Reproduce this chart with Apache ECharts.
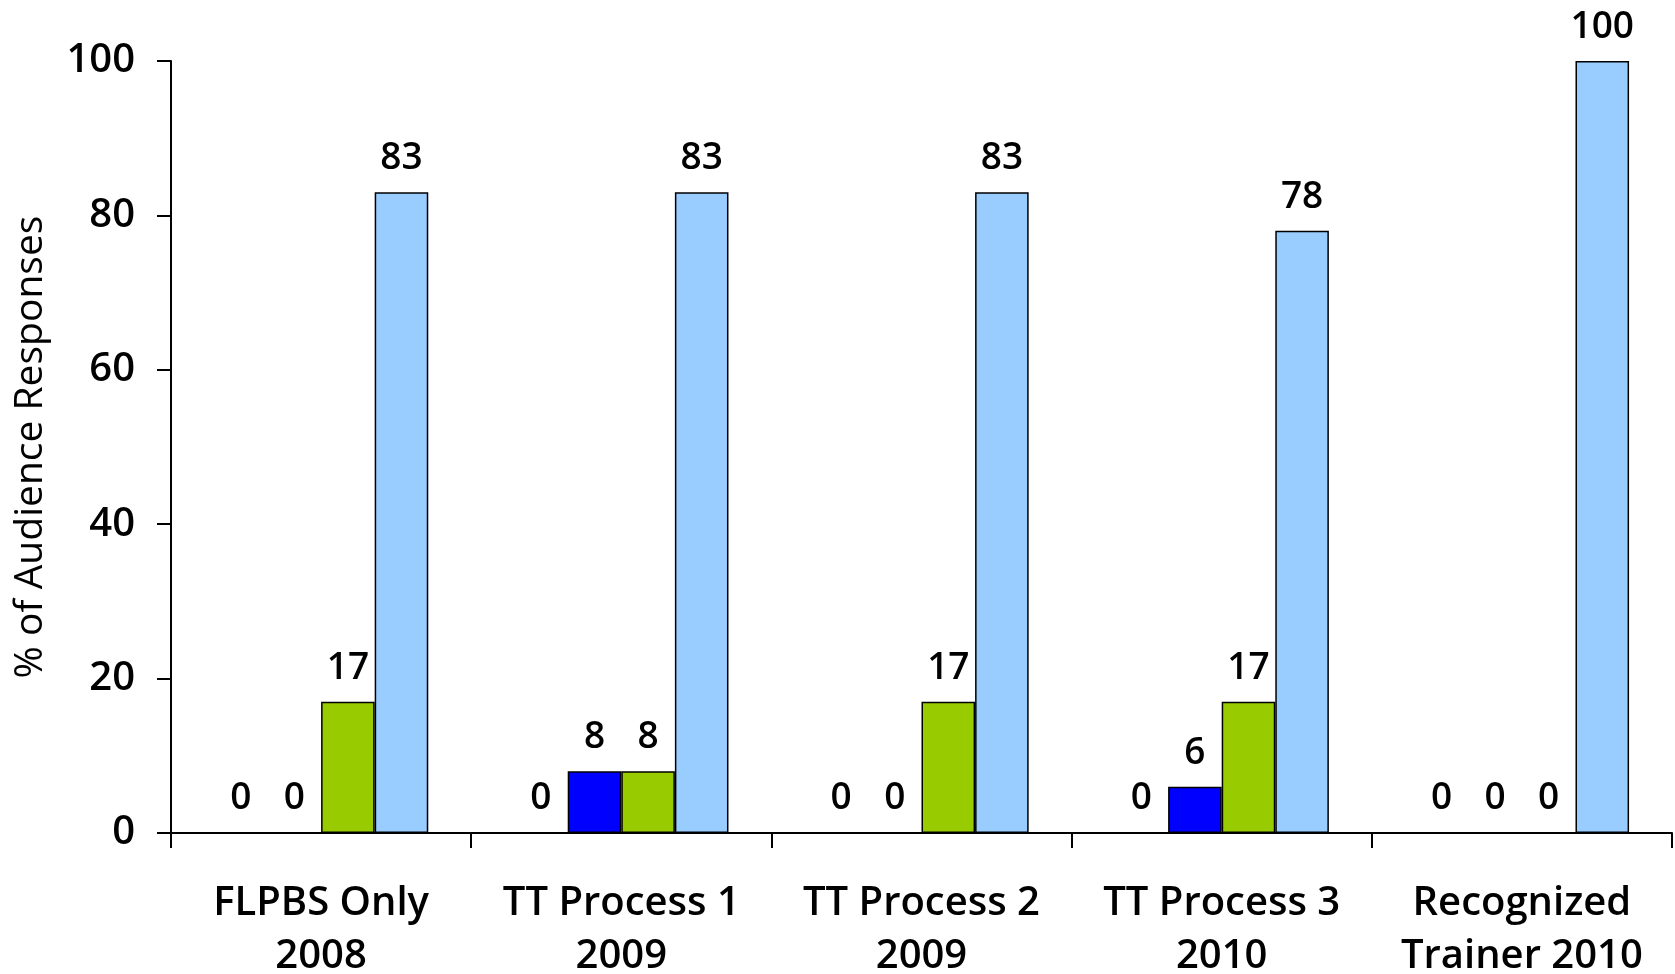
<!DOCTYPE html>
<html>
<head>
<meta charset="utf-8">
<script src="https://cdn.jsdelivr.net/npm/echarts@6/dist/echarts.min.js"></script>
<style>
  html, body { margin: 0; padding: 0; background: #ffffff; }
  #chart { width: 1675px; height: 974px; }
</style>
</head>
<body>
<div id="chart"></div>
<script>
// Survey groups along the x axis
const categories = [
  'FLPBS Only\n2008',
  'TT Process 1\n2009',
  'TT Process 2\n2009',
  'TT Process 3\n2010',
  'Recognized\nTrainer 2010'
];

// Percent of audience responses per answer, one array per answer
const answer1 = [0, 0, 0, 0, 0];
const answer2 = [0, 8, 0, 6, 0];
const answer3 = [17, 8, 17, 17, 0];
const answer4 = [83, 83, 83, 78, 100];

const yTicks = [0, 20, 40, 60, 80, 100];

const FONT = '"Open Sans", "DejaVu Sans", sans-serif';

const labelStyle = {
  show: true,
  position: 'top',
  distance: 15,
  color: '#000',
  fontFamily: FONT,
  fontWeight: 600,
  fontSize: 37
};

function barSeries(name, data, color) {
  return {
    name: name,
    type: 'bar',
    data: data,
    barGap: '0%',
    barCategoryGap: '28.6%',
    itemStyle: { color: color, borderColor: '#000', borderWidth: 1.5 },
    label: labelStyle,
    emphasis: { disabled: true }
  };
}

const chart = echarts.init(document.getElementById('chart'), null, { renderer: 'canvas' });
chart.setOption({
  animation: false,
  backgroundColor: '#ffffff',
  grid: {
    left: 171, right: 3, top: 61, bottom: 141,
    containLabel: false,
    outerBoundsMode: 'none'
  },
  xAxis: {
    type: 'category',
    data: categories,
    axisLine: { lineStyle: { color: '#000', width: 2 } },
    axisTick: { show: true, length: 15, lineStyle: { color: '#000', width: 2 } },
    axisLabel: {
      color: '#000',
      fontFamily: FONT,
      fontWeight: 600,
      fontSize: 40,
      lineHeight: 53,
      margin: 44,
      interval: 0
    }
  },
  yAxis: {
    type: 'value',
    min: yTicks[0],
    max: yTicks[yTicks.length - 1],
    interval: 20,
    name: '% of Audience Responses',
    nameLocation: 'middle',
    nameRotate: 90,
    nameGap: 121,
    nameTextStyle: { color: '#000', fontFamily: FONT, fontSize: 39 },
    axisLine: { show: true, lineStyle: { color: '#000', width: 2 } },
    axisTick: { show: true, length: 14, lineStyle: { color: '#000', width: 2 } },
    splitLine: { show: false },
    axisLabel: {
      color: '#000',
      fontFamily: FONT,
      fontWeight: 600,
      fontSize: 40,
      margin: 36
    }
  },
  series: [
    barSeries('Answer 1', answer1, '#9999FF'),
    barSeries('Answer 2', answer2, '#0000FF'),
    barSeries('Answer 3', answer3, '#99CC00'),
    barSeries('Answer 4', answer4, '#99CCFF')
  ]
});
</script>
</body>
</html>
